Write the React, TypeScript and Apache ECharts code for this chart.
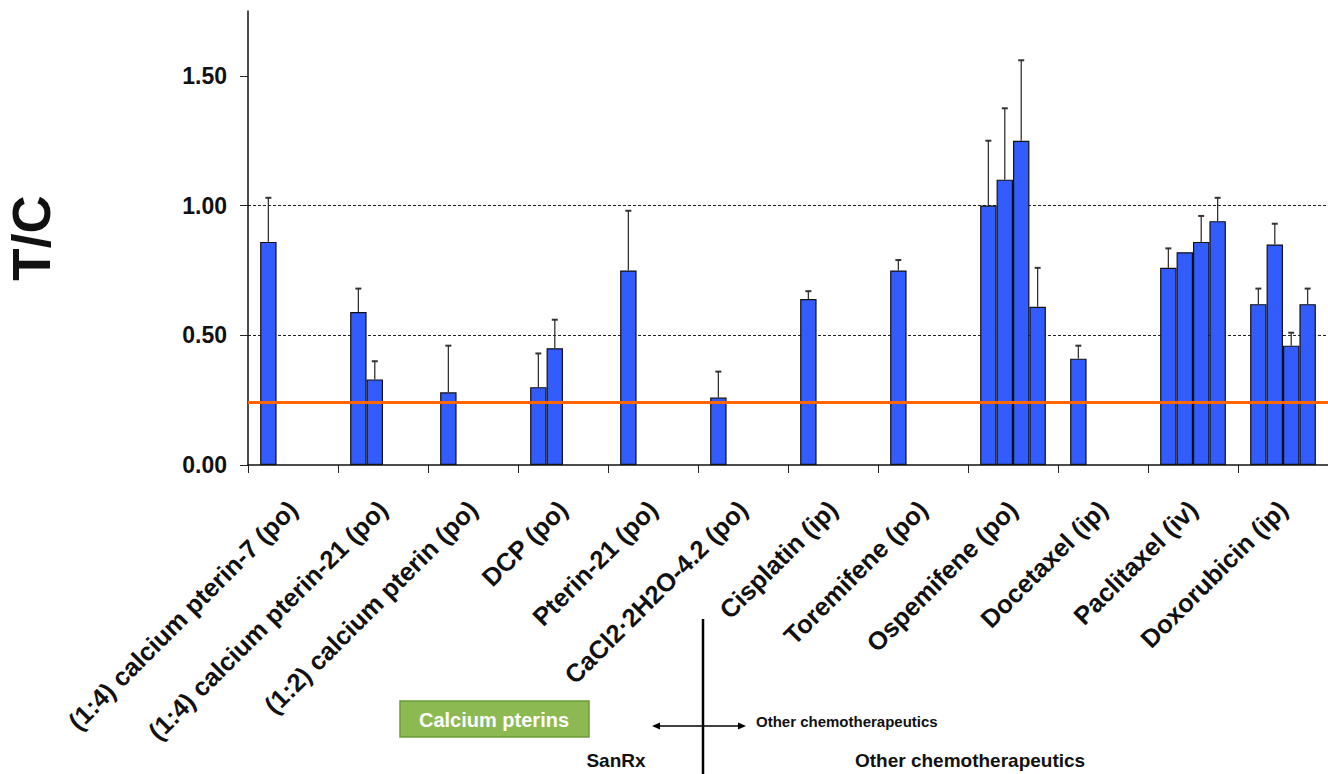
import React, { useEffect, useRef } from "react";
import * as echarts from "echarts";

const categories = [
  "(1:4) calcium pterin-7 (po)",
  "(1:4) calcium pterin-21 (po)",
  "(1:2) calcium pterin (po)",
  "DCP (po)",
  "Pterin-21 (po)",
  "CaCl2·2H2O-4.2 (po)",
  "Cisplatin (ip)",
  "Toremifene (po)",
  "Ospemifene (po)",
  "Docetaxel (ip)",
  "Paclitaxel (iv)",
  "Doxorubicin (ip)",
];

// bar values per slot within each category
const bar1 = [0.86, 0.59, 0.28, 0.3, 0.75, 0.26, 0.64, 0.75, 1.0, 0.41, 0.76, 0.62];
const bar2 = [null, 0.33, null, 0.45, null, null, null, null, 1.1, null, 0.82, 0.85];
const bar3 = [null, null, null, null, null, null, null, null, 1.25, null, 0.86, 0.46];
const bar4 = [null, null, null, null, null, null, null, null, 0.61, null, 0.94, 0.62];

// top of the error whiskers
const err1 = [1.03, 0.68, 0.46, 0.43, 0.98, 0.36, 0.67, 0.79, 1.25, 0.46, 0.835, 0.68];
const err2 = [null, 0.4, null, 0.56, null, null, null, null, 1.375, null, null, 0.93];
const err3 = [null, null, null, null, null, null, null, null, 1.56, null, 0.96, 0.51];
const err4 = [null, null, null, null, null, null, null, null, 0.76, null, 1.03, 0.68];

const yTicks = [0, 0.5, 1.0, 1.5];
const referenceLine = 0.245;

const FONT = "'Liberation Sans', Arial, Helvetica, sans-serif";
const BAR_COLOR = "#335CFF";
const CAT_GAP = 0.27;

export default function App() {
  const ref = useRef<HTMLDivElement>(null);

  useEffect(() => {
    if (!ref.current) return;
    const chart = echarts.init(ref.current, null, { renderer: "svg" });

    const bars = [bar1, bar2, bar3, bar4];
    const errs = [err1, err2, err3, err4];
    const errData: any[] = [];
    bars.forEach((b, s) => {
      b.forEach((v, i) => {
        const up = errs[s][i];
        if (v != null && up != null) errData.push([i, s, v, up]);
      });
    });

    const barSeries = bars.map((b, s) => ({
      type: "bar",
      name: "s" + s,
      data: b.map((v) => (v == null ? "-" : v)),
      barGap: "0%",
      barCategoryGap: CAT_GAP * 100 + "%",
      itemStyle: { color: BAR_COLOR, borderColor: "#111", borderWidth: 1.2 },
      z: 2,
    }));

    const option: any = {
      animation: false,
      grid: {
        left: 248,
        right: 0,
        top: 11,
        bottom: 309,
        containLabel: false,
        outerBoundsMode: "none",
      },
      xAxis: {
        type: "category",
        data: categories,
        axisLine: { lineStyle: { color: "#111", width: 1.5 } },
        axisTick: { show: true, length: 8, lineStyle: { color: "#222", width: 1 } },
        axisLabel: {
          interval: 0,
          rotate: 45,
          margin: 40,
          color: "#111",
          fontFamily: FONT,
          fontWeight: "bold",
          fontSize: 25.5,
        },
        splitLine: { show: false },
      },
      yAxis: {
        type: "value",
        min: 0,
        max: 1.75,
        interval: 0.5,
        name: "T/C",
        nameLocation: "middle",
        nameRotate: 90,
        nameGap: 190,
        nameTextStyle: { color: "#111", fontFamily: FONT, fontWeight: "bold", fontSize: 53 },
        axisLine: { show: true, lineStyle: { color: "#111", width: 1.5 } },
        axisTick: { show: true, length: 8, customValues: yTicks, lineStyle: { color: "#222" } },
        axisLabel: {
          customValues: yTicks,
          margin: 21,
          color: "#111",
          fontFamily: FONT,
          fontWeight: "bold",
          fontSize: 23,
          formatter: (v: number) => v.toFixed(2),
        },
        splitLine: {
          show: true,
          showMinLine: false,
          showMaxLine: false,
          lineStyle: { color: "#222", type: [3, 2], width: 1 },
        },
      },
      series: [
        ...barSeries,
        {
          type: "custom",
          z: 5,
          data: errData,
          renderItem: (params: any, api: any) => {
            const cat = api.value(0);
            const slot = api.value(1);
            const v = api.value(2);
            const up = api.value(3);
            const bandW = api.size([1, 0])[0];
            const groupW = bandW * (1 - CAT_GAP);
            const barW = groupW / 4;
            const p0 = api.coord([cat, v]);
            const p1 = api.coord([cat, up]);
            const x = p0[0] - groupW / 2 + (slot + 0.5) * barW;
            const style = { stroke: "#333", lineWidth: 1.3 };
            return {
              type: "group",
              children: [
                { type: "line", shape: { x1: x, y1: p0[1], x2: x, y2: p1[1] }, style },
                { type: "line", shape: { x1: x - 3, y1: p1[1], x2: x + 3, y2: p1[1] }, style: { stroke: "#333", lineWidth: 2 } },
              ],
            };
          },
          markLine: {
            silent: true,
            symbol: ["none", "none"],
            label: { show: false },
            lineStyle: { color: "#FF6600", width: 3, type: "solid" },
            data: [{ yAxis: referenceLine }],
          },
        },
      ],
      graphic: [
        {
          type: "rect",
          shape: { x: 400, y: 701, width: 189, height: 36 },
          style: { fill: "#8CB951", stroke: "#6E9A3A", lineWidth: 1.5 },
        },
        {
          type: "text",
          x: 494,
          y: 720,
          style: {
            text: "Calcium pterins",
            fill: "#fff",
            font: `bold 20px ${FONT}`,
            align: "center",
            verticalAlign: "middle",
          },
        },
        {
          type: "line",
          shape: { x1: 703, y1: 619, x2: 703, y2: 774 },
          style: { stroke: "#000", lineWidth: 2.5 },
        },
        {
          type: "line",
          shape: { x1: 656, y1: 726, x2: 742, y2: 726 },
          style: { stroke: "#000", lineWidth: 1.5 },
        },
        {
          type: "polygon",
          shape: { points: [[652, 726], [660, 722.5], [660, 729.5]] },
          style: { fill: "#000" },
        },
        {
          type: "polygon",
          shape: { points: [[746, 726], [738, 722.5], [738, 729.5]] },
          style: { fill: "#000" },
        },
        {
          type: "text",
          x: 756,
          y: 721,
          style: {
            text: "Other chemotherapeutics",
            fill: "#111",
            font: `bold 15px ${FONT}`,
            align: "left",
            verticalAlign: "middle",
          },
        },
        {
          type: "text",
          x: 616,
          y: 760,
          style: {
            text: "SanRx",
            fill: "#111",
            font: `bold 19px ${FONT}`,
            align: "center",
            verticalAlign: "middle",
          },
        },
        {
          type: "text",
          x: 855,
          y: 760,
          style: {
            text: "Other chemotherapeutics",
            fill: "#111",
            font: `bold 19px ${FONT}`,
            align: "left",
            verticalAlign: "middle",
          },
        },
      ],
    };

    chart.setOption(option);
    return () => chart.dispose();
  }, []);

  return (
    <div
      ref={ref}
      style={{ position: "absolute", left: 0, top: 0, width: 1328, height: 774, background: "#fff" }}
    />
  );
}
